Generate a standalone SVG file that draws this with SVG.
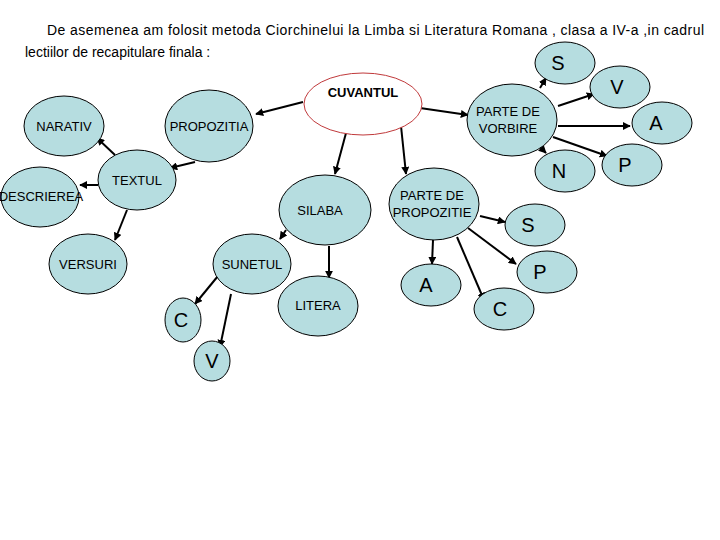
<svg xmlns="http://www.w3.org/2000/svg" width="720" height="540" viewBox="0 0 720 540">
<style>
.n{fill:#b6dde0;stroke:#000;stroke-width:1}
.t{font-family:"Liberation Sans",Arial,sans-serif;font-size:13px;text-anchor:middle;fill:#000}
.l{font-family:"Liberation Sans",Arial,sans-serif;font-size:20px;text-anchor:middle;fill:#000}
.c line{stroke:#000;stroke-width:2;marker-end:url(#a)}
</style>
<defs><marker id="a" viewBox="0 0 10 10" refX="9" refY="5" markerWidth="4" markerHeight="4" orient="auto"><path d="M0,0L10,5L0,10z" fill="#000"/></marker></defs>
<rect width="720" height="540" fill="#fff"/>
<text font-family="Liberation Sans,Arial,sans-serif" font-size="14" x="47" y="35" textLength="657">De asemenea am folosit metoda Ciorchinelui la Limba si Literatura Romana , clasa a IV-a ,in cadrul</text>
<text font-family="Liberation Sans,Arial,sans-serif" font-size="14" x="25" y="57">lectiilor de recapitulare finala :</text>
<g class="c">
<line x1="303" y1="102" x2="256" y2="114"/>
<line x1="195" y1="162" x2="170" y2="168"/>
<line x1="115" y1="155" x2="97" y2="138"/>
<line x1="98" y1="185" x2="80" y2="185"/>
<line x1="127" y1="210" x2="115" y2="240"/>
<line x1="346" y1="133" x2="335" y2="174"/>
<line x1="401" y1="126" x2="406" y2="174"/>
<line x1="420" y1="108" x2="468" y2="115"/>
<line x1="286" y1="230" x2="280" y2="239"/>
<line x1="329" y1="246" x2="329" y2="278"/>
<line x1="218" y1="276" x2="195" y2="304"/>
<line x1="231" y1="294" x2="220" y2="347"/>
<line x1="433" y1="240" x2="432" y2="264"/>
<line x1="457" y1="237" x2="484" y2="300"/>
<line x1="468" y1="228" x2="516" y2="264"/>
<line x1="480" y1="216" x2="505" y2="222"/>
<line x1="540" y1="88" x2="546" y2="78"/>
<line x1="558" y1="106" x2="594" y2="94"/>
<line x1="558" y1="126" x2="630" y2="126"/>
<line x1="553" y1="137" x2="607" y2="156"/>
<line x1="540" y1="147" x2="546" y2="153"/>
</g>
<g id="cuvantul"><ellipse cx="363" cy="104" rx="59" ry="31" fill="#fff" stroke="#c0393b"/><text class="t" x="363" y="97" font-size="12" font-weight="bold">CUVANTUL</text></g>
<g id="propozitia"><ellipse class="n" cx="209" cy="126" rx="44" ry="36"/><text class="t" x="209" y="131">PROPOZITIA</text></g>
<g id="narativ"><ellipse class="n" cx="64" cy="126" rx="40" ry="30"/><text class="t" x="64" y="131" font-size="12">NARATIV</text></g>
<g id="textul"><ellipse class="n" cx="137" cy="180" rx="39" ry="30"/><text class="t" x="137" y="185">TEXTUL</text></g>
<g id="descrierea"><ellipse class="n" cx="40" cy="197" rx="39" ry="30"/><text class="t" x="41" y="201" font-size="11">DESCRIEREA</text></g>
<g id="versuri"><ellipse class="n" cx="88" cy="264" rx="39" ry="30"/><text class="t" x="88" y="269" font-size="12">VERSURI</text></g>
<g id="silaba"><ellipse class="n" cx="325" cy="210" rx="46" ry="35"/><text class="t" x="320" y="215">SILABA</text></g>
<g id="sunetul"><ellipse class="n" cx="252" cy="264" rx="39" ry="30"/><text class="t" x="252" y="269" font-size="12">SUNETUL</text></g>
<g id="litera"><ellipse class="n" cx="318" cy="306" rx="40" ry="30"/><text class="t" x="318" y="310" font-size="12">LITERA</text></g>
<g id="c1"><ellipse class="n" cx="183" cy="320" rx="18" ry="22"/><text class="l" x="181" y="327">C</text></g>
<g id="v1"><ellipse class="n" cx="212" cy="361" rx="18" ry="20"/><text class="l" x="212" y="368">V</text></g>
<g id="pdp"><ellipse class="n" cx="434" cy="204" rx="45" ry="36"/><text class="t" x="432" y="200">PARTE DE</text><text class="t" x="432" y="217">PROPOZITIE</text></g>
<g id="a2"><ellipse class="n" cx="431" cy="285" rx="30" ry="21"/><text class="l" x="426" y="292">A</text></g>
<g id="c2"><ellipse class="n" cx="504" cy="309" rx="30" ry="21"/><text class="l" x="500" y="316">C</text></g>
<g id="p2"><ellipse class="n" cx="547" cy="272" rx="30" ry="21"/><text class="l" x="540" y="279">P</text></g>
<g id="s2"><ellipse class="n" cx="535" cy="225" rx="30" ry="21"/><text class="l" x="528" y="232">S</text></g>
<g id="pdv"><ellipse class="n" cx="512" cy="120" rx="45" ry="36"/><text class="t" x="508" y="116">PARTE DE</text><text class="t" x="508" y="133">VORBIRE</text></g>
<g id="s1"><ellipse class="n" cx="565" cy="63" rx="30" ry="21"/><text class="l" x="558" y="70">S</text></g>
<g id="v2"><ellipse class="n" cx="620" cy="87" rx="30" ry="21"/><text class="l" x="617" y="94">V</text></g>
<g id="a1"><ellipse class="n" cx="662" cy="123" rx="30" ry="21"/><text class="l" x="656" y="130">A</text></g>
<g id="p1"><ellipse class="n" cx="632" cy="165" rx="30" ry="21"/><text class="l" x="625" y="172">P</text></g>
<g id="n1"><ellipse class="n" cx="565" cy="171" rx="30" ry="21"/><text class="l" x="559" y="178">N</text></g>
</svg>
